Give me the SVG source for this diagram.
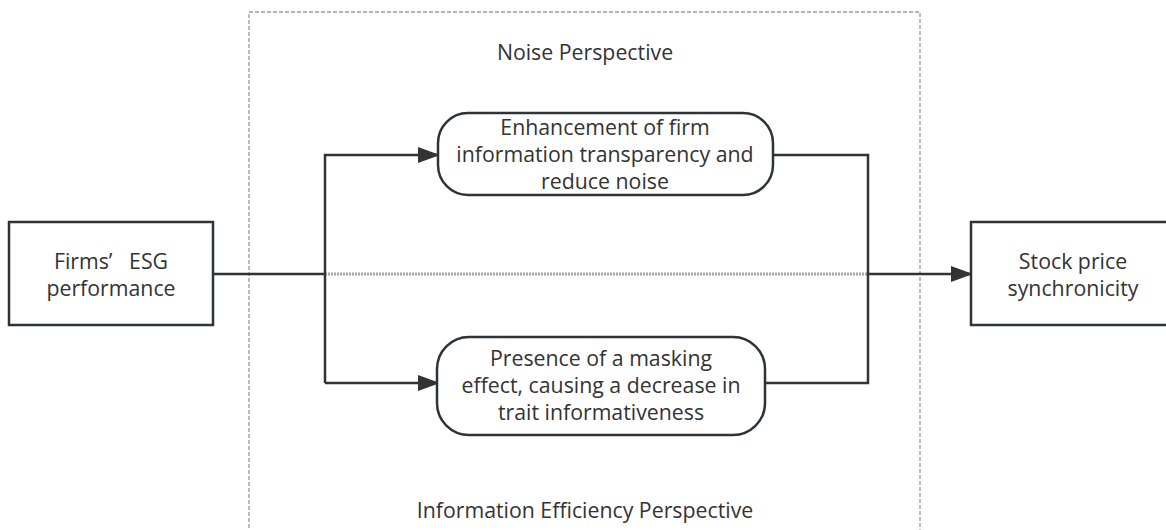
<svg xmlns="http://www.w3.org/2000/svg" width="1166" height="530" viewBox="0 0 1166 530">
<defs>
<style>
.box{fill:#fff;stroke:#2f3337;stroke-width:2.5}
.t{font-family:"Open Sans","Noto Sans","Liberation Sans",sans-serif;font-size:21.3px;fill:#333;text-anchor:middle}
.ln{fill:none;stroke:#333;stroke-width:2.5}
.dash{fill:none;stroke:#999;stroke-width:1.3;stroke-dasharray:4 2}
</style>
<marker id="ahl" markerWidth="22" markerHeight="16" refX="20" refY="8" orient="auto" markerUnits="userSpaceOnUse" viewBox="0 0 22 16">
<path d="M0,0 L22,8 L0,16 Z" fill="#333"/>
</marker>
</defs>
<rect x="0" y="0" width="1166" height="530" fill="#fff"/>
<g id="frame">
<path class="dash" d="M249,540 L249,12 L920,12 L920,540"/>
<text class="t" x="585" y="60">Noise Perspective</text>
<text class="t" x="585" y="518">Information Efficiency Perspective</text>
</g>
<g id="connectors">
<path d="M325,274 L868,274" fill="none" stroke="#a8a8a8" stroke-width="3" stroke-dasharray="2 1"/>
<path class="ln" d="M213,274 L325,274"/>
<path class="ln" d="M325,383 L325,155 L438,155" marker-end="url(#ahl)"/>
<path class="ln" d="M325,383 L438,383" marker-end="url(#ahl)"/>
<path class="ln" d="M773,155 L868,155 L868,383 L765,383"/>
<path class="ln" d="M868,274 L971,274" marker-end="url(#ahl)"/>
</g>
<g id="esg">
<rect class="box" x="9" y="222" width="204" height="103"/>
<text class="t" x="111" y="269" xml:space="preserve">Firms’   ESG</text>
<text class="t" x="111" y="296">performance</text>
</g>
<g id="noise">
<rect class="box" x="438" y="113" width="335" height="82" rx="30" ry="30"/>
<text class="t" x="605" y="135">Enhancement of firm</text>
<text class="t" x="605" y="162">information transparency and</text>
<text class="t" x="605" y="189">reduce noise</text>
</g>
<g id="masking">
<rect class="box" x="437" y="337" width="328" height="98" rx="32" ry="32"/>
<text class="t" x="601" y="366">Presence of a masking</text>
<text class="t" x="601" y="393">effect, causing a decrease in</text>
<text class="t" x="601" y="420">trait informativeness</text>
</g>
<g id="sync">
<rect class="box" x="971" y="222" width="210" height="103"/>
<text class="t" x="1073" y="269">Stock price</text>
<text class="t" x="1073" y="296">synchronicity</text>
</g>
</svg>
